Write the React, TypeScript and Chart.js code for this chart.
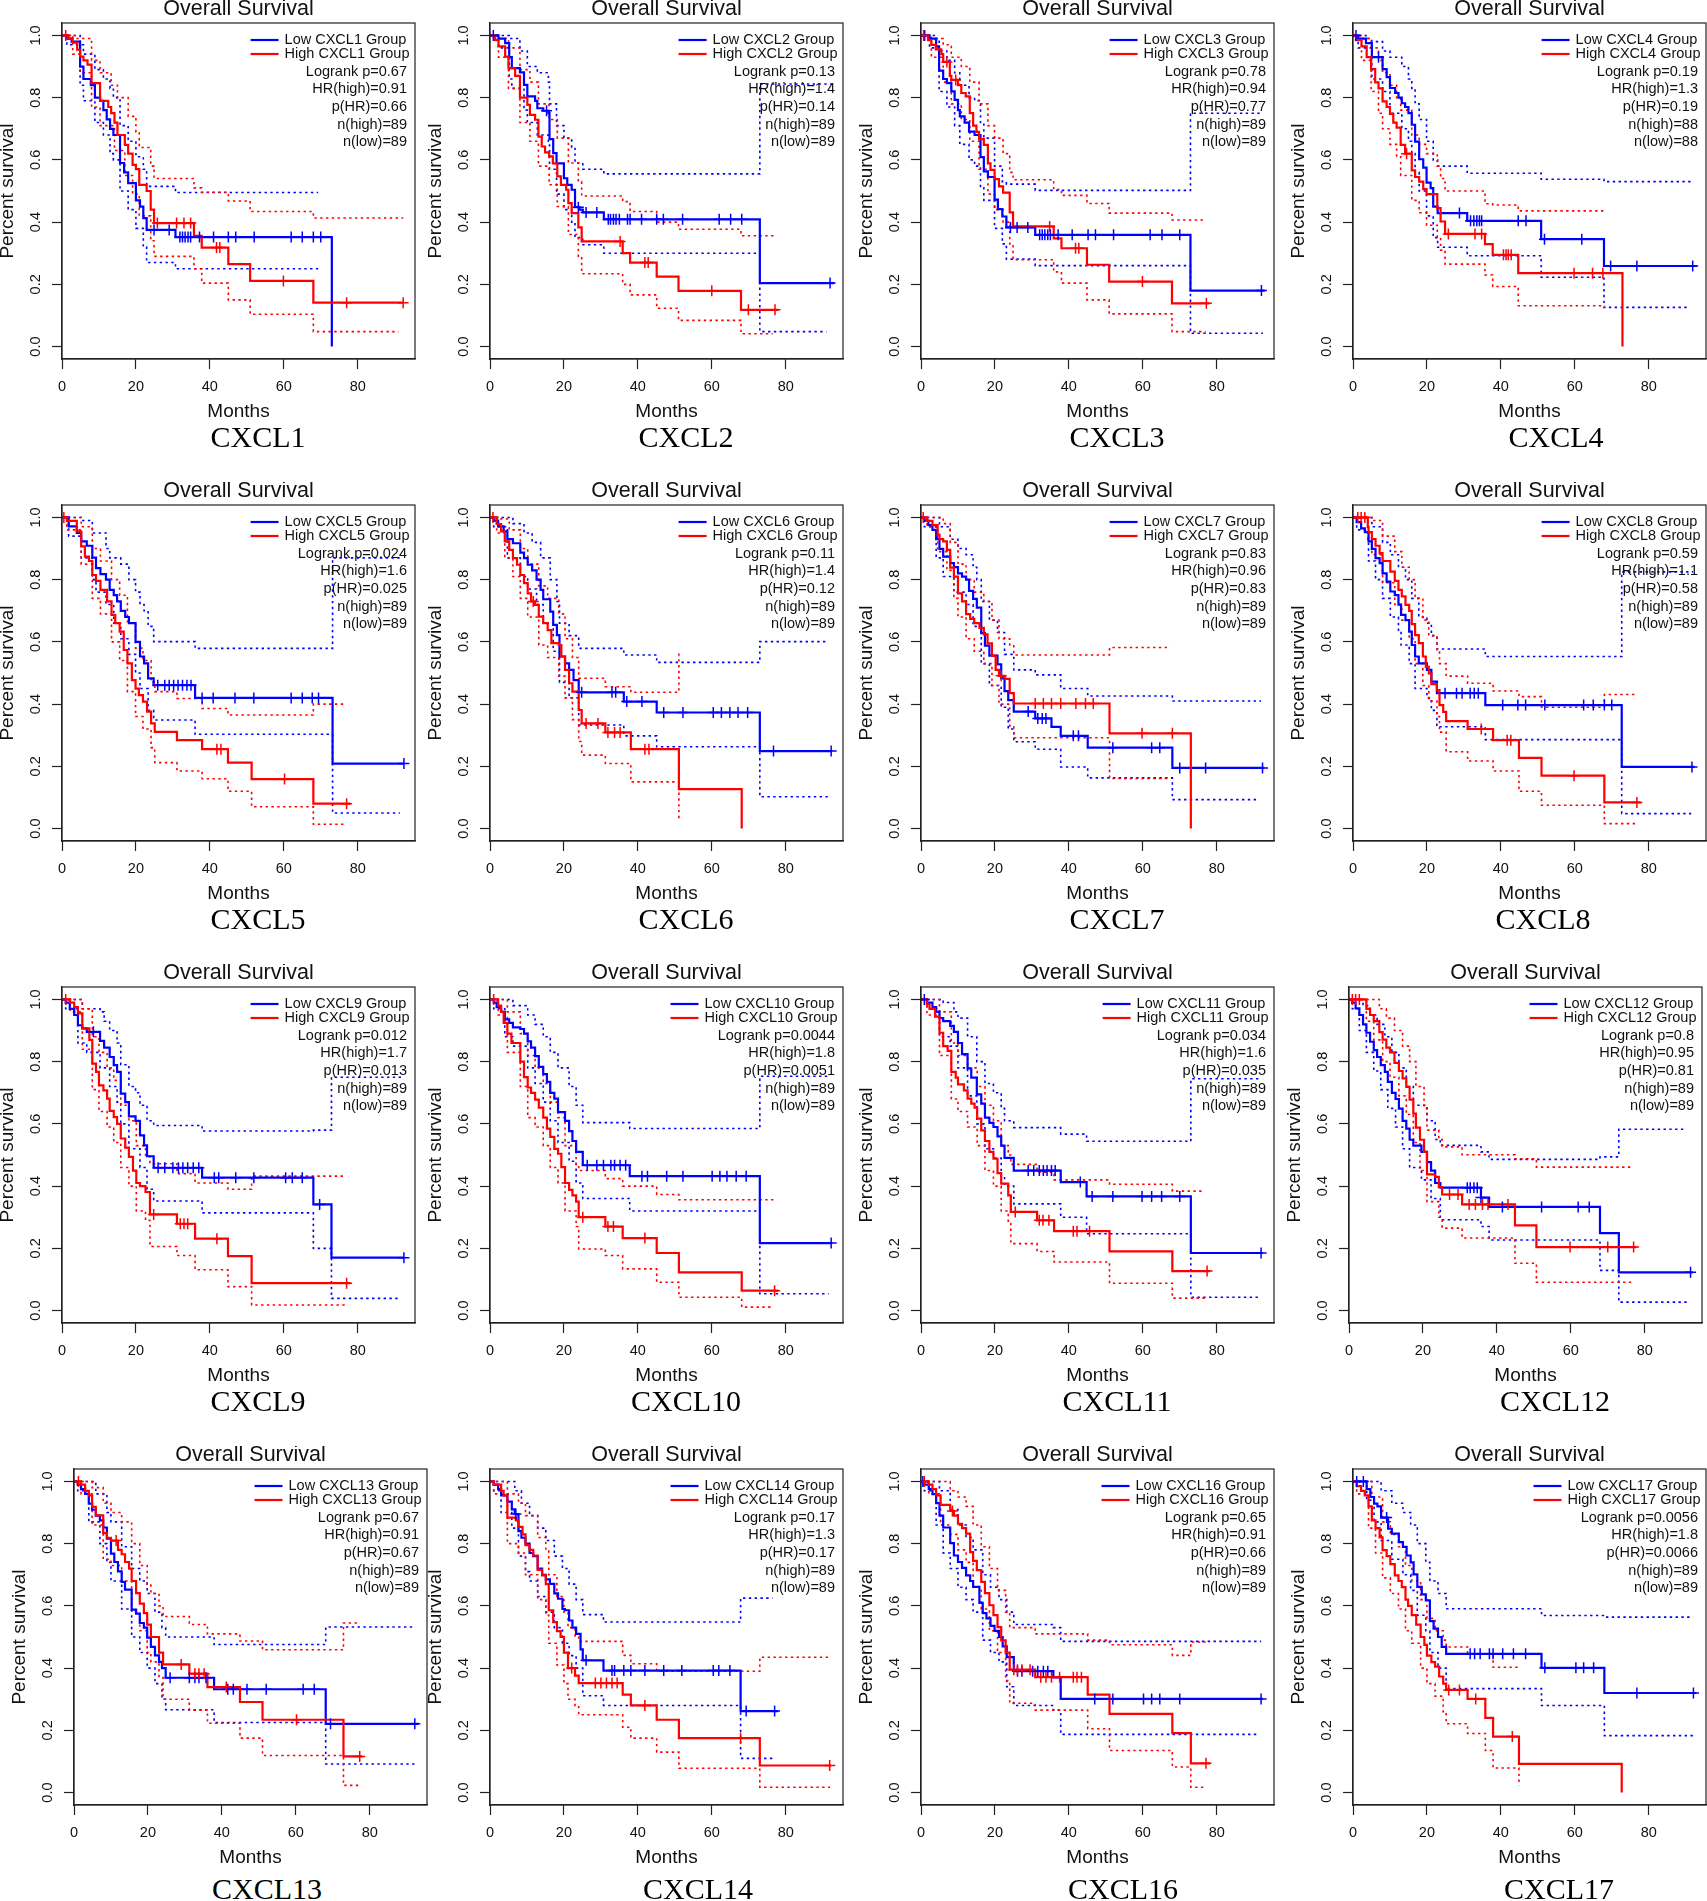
import React, { useEffect, useRef } from 'react';
import { Chart, registerables } from 'chart.js';

Chart.register(...registerables);

// ---------- labels & stats ----------
const genes = ['CXCL1', 'CXCL2', 'CXCL3', 'CXCL4', 'CXCL5', 'CXCL6', 'CXCL7', 'CXCL8', 'CXCL9', 'CXCL10', 'CXCL11', 'CXCL12', 'CXCL13', 'CXCL14', 'CXCL16', 'CXCL17'];
const logrankP = ['0.67', '0.13', '0.78', '0.19', '0.024', '0.11', '0.83', '0.59', '0.012', '0.0044', '0.034', '0.8', '0.67', '0.17', '0.65', '0.0056'];
const hrHigh = ['0.91', '1.4', '0.94', '1.3', '1.6', '1.4', '0.96', '1.1', '1.7', '1.8', '1.6', '0.95', '0.91', '1.3', '0.91', '1.8'];
const pHR = ['0.66', '0.14', '0.77', '0.19', '0.025', '0.12', '0.83', '0.58', '0.013', '0.0051', '0.035', '0.81', '0.67', '0.17', '0.66', '0.0066'];
const nHigh = [89, 89, 89, 88, 89, 89, 89, 89, 89, 89, 89, 89, 89, 89, 89, 89];
const nLow = [89, 89, 89, 88, 89, 89, 89, 89, 89, 89, 89, 89, 89, 89, 89, 89];
const xTicks = [0, 20, 40, 60, 80];
const yTicks = [0, 0.2, 0.4, 0.6, 0.8, 1.0];

// ---------- CXCL1 ----------
const c1Low = [[0,1],[1.3,0.99],[2.6,0.98],[4.9,0.90],[5.8,0.86],[7.8,0.84],[8.9,0.80],[10.3,0.79],[11.2,0.76],[12.1,0.73],[13,0.70],[13.9,0.68],[15.7,0.59],[16.8,0.56],[17.9,0.525],[20,0.47],[21.1,0.45],[22,0.413],[22.9,0.375],[30.7,0.352],[73,0]];
const c1High = [[0,1],[1.7,0.99],[2.9,0.977],[4.1,0.954],[4.9,0.932],[5.8,0.92],[6.9,0.906],[8,0.847],[10.3,0.79],[12.5,0.77],[13.3,0.75],[14.2,0.72],[15,0.68],[17,0.648],[17.9,0.62],[19.1,0.584],[20,0.57],[20.9,0.52],[22.9,0.50],[24,0.44],[24.9,0.397],[35.7,0.356],[37.8,0.318],[45,0.265],[50.9,0.211],[68,0.141],[92.3,0.141]];
const c1LowUp = [[0,1],[4.9,0.97],[5.8,0.94],[8.9,0.89],[11.2,0.86],[13,0.83],[13.9,0.80],[15.7,0.71],[17.9,0.66],[20,0.61],[22,0.57],[22.9,0.515],[30.7,0.495],[69.3,0.495]];
const c1LowDn = [[0,1],[1.3,0.97],[4.9,0.84],[5.8,0.79],[8.9,0.72],[11.2,0.68],[13,0.62],[13.9,0.60],[15.7,0.50],[17.9,0.44],[20,0.38],[22,0.32],[22.9,0.27],[30.7,0.25],[69.3,0.25]];
const c1HighUp = [[0,1],[4.1,0.99],[8,0.92],[10.3,0.88],[13.3,0.84],[15,0.80],[17.9,0.74],[20,0.69],[20.9,0.64],[24,0.58],[24.9,0.54],[35.7,0.51],[37.8,0.496],[45,0.468],[50.9,0.434],[68,0.413],[92.3,0.413]];
const c1HighDn = [[0,1],[2.9,0.94],[4.9,0.88],[8,0.77],[10.3,0.71],[14.2,0.63],[17,0.55],[19.1,0.49],[20.9,0.42],[24,0.34],[24.9,0.29],[35.7,0.25],[37.8,0.204],[45,0.15],[50.9,0.104],[68,0.048],[91,0.048]];
const c1LowCens = [24.9, 29, 31.9, 32.6, 33.3, 34.1, 34.8, 37.2, 41, 45, 47, 52, 62, 65, 68, 70];
const c1HighCens = [1, 25.8, 31, 33, 34.8, 41.8, 42.7, 59.9, 77, 92.3];

// ---------- CXCL2 ----------
const c2Low = [[0,1],[2.3,0.99],[4.1,0.975],[5.2,0.93],[5.9,0.895],[8.1,0.881],[9.2,0.841],[10.1,0.804],[12.2,0.79],[12.8,0.766],[14.4,0.758],[15.8,0.75],[16.1,0.667],[17.1,0.622],[18,0.589],[20,0.541],[20.9,0.52],[22.1,0.504],[23,0.448],[24.2,0.44],[25.1,0.431],[30.8,0.409],[73,0.204],[93.1,0.204]];
const c2High = [[0,1],[1.4,0.985],[2.3,0.965],[4.1,0.932],[5,0.895],[6.8,0.87],[8.1,0.80],[10.1,0.777],[10.8,0.745],[12.2,0.729],[13.1,0.675],[14,0.643],[14.9,0.624],[16,0.611],[17,0.589],[18.2,0.547],[19.2,0.52],[20.6,0.504],[21.2,0.461],[22.1,0.429],[23.9,0.383],[24.8,0.338],[35.9,0.30],[37.9,0.27],[45.1,0.225],[51,0.179],[67.9,0.118],[78,0.118]];
const c2LowUp = [[0,1],[5.2,0.99],[8.1,0.95],[10.1,0.90],[12.8,0.88],[15.8,0.85],[16.1,0.78],[18,0.71],[20,0.67],[22.1,0.64],[23,0.59],[25.1,0.57],[30.8,0.555],[73,0.844],[93,0.844]];
const c2LowDn = [[0,1],[2.3,0.96],[5.2,0.86],[5.9,0.83],[9.2,0.76],[10.1,0.72],[12.8,0.68],[15.8,0.66],[16.1,0.57],[18,0.49],[20,0.44],[22.1,0.40],[23,0.35],[25.1,0.327],[30.8,0.30],[73,0.048],[91,0.048]];
const c2HighUp = [[0,1],[2.3,0.99],[5,0.96],[8.1,0.89],[10.8,0.85],[13.1,0.78],[16,0.73],[18.2,0.67],[21.2,0.59],[23.9,0.53],[24.8,0.484],[35.9,0.466],[37.9,0.434],[45.1,0.40],[51,0.377],[67.9,0.356],[77.5,0.356]];
const c2HighDn = [[0,1],[2.3,0.93],[5,0.83],[8.1,0.72],[10.8,0.66],[13.1,0.58],[16,0.52],[18.2,0.45],[21.2,0.36],[23.9,0.29],[24.8,0.234],[35.9,0.20],[37.9,0.166],[45.1,0.123],[51,0.084],[67.9,0.041],[76.5,0.041]];
const c2LowCens = [0.9, 15.3, 23.9, 26, 28.9, 32, 32.6, 33.4, 34.1, 35, 37.2, 37.9, 41, 45.1, 46.9, 52.1, 62, 65.1, 68.1, 92];
const c2HighCens = [35.2, 41.9, 42.8, 60, 69.9, 77.1];

// ---------- CXCL3 ----------
const c3Low = [[0,1],[2.3,0.99],[4.1,0.965],[4.9,0.887],[6,0.86],[7,0.847],[8.2,0.82],[9.1,0.793],[10,0.76],[10.5,0.74],[11.8,0.72],[13,0.691],[14.5,0.68],[16.1,0.609],[17,0.563],[18.1,0.545],[19.9,0.472],[20.8,0.442],[22,0.418],[23.1,0.383],[30.9,0.359],[72.9,0.18],[93,0.18]];
const c3High = [[0,1],[1.9,0.985],[2.8,0.97],[4,0.955],[5.5,0.94],[6,0.915],[7.8,0.87],[8.2,0.857],[10,0.84],[10.9,0.815],[12.1,0.804],[13.2,0.75],[14.1,0.71],[15,0.69],[15.7,0.667],[17,0.648],[18.1,0.589],[18.8,0.568],[19.9,0.538],[21.1,0.515],[22.2,0.495],[24,0.431],[24.9,0.386],[35.9,0.348],[38,0.316],[44.9,0.263],[50.9,0.209],[67.9,0.139],[78,0.139]];
const c3LowUp = [[0,1],[4.1,0.99],[4.9,0.95],[7,0.92],[9.1,0.88],[10.5,0.84],[13,0.80],[14.5,0.79],[16.1,0.72],[17,0.67],[19.9,0.58],[22,0.53],[23.1,0.522],[30.9,0.502],[72.9,0.75],[92.5,0.75]];
const c3LowDn = [[0,1],[2.3,0.96],[4.9,0.82],[7,0.77],[9.1,0.71],[10.5,0.65],[13,0.60],[14.5,0.58],[16.1,0.51],[17,0.47],[19.9,0.38],[22,0.33],[23.1,0.281],[30.9,0.26],[72.9,0.043],[92.5,0.043]];
const c3HighUp = [[0,1],[2.8,0.99],[6,0.97],[8.2,0.93],[10.9,0.90],[13.2,0.85],[15.7,0.78],[18.1,0.71],[19.9,0.67],[22.2,0.62],[24,0.56],[24.9,0.536],[35.9,0.505],[38,0.486],[44.9,0.46],[50.9,0.429],[67.9,0.407],[77,0.407]];
const c3HighDn = [[0,1],[2.8,0.93],[6,0.85],[8.2,0.78],[10.9,0.73],[13.2,0.66],[15.7,0.57],[18.1,0.49],[19.9,0.44],[22.2,0.40],[24,0.33],[24.9,0.279],[35.9,0.24],[38,0.204],[44.9,0.15],[50.9,0.105],[67.9,0.048],[77,0.048]];
const c3LowCens = [1, 24.2, 26, 28.9, 32.1, 32.8, 33.5, 34.3, 35, 37.1, 40.9, 45.2, 47.2, 52.1, 62, 65.2, 70, 92.1];
const c3HighCens = [0.7, 7, 9.4, 34.8, 41.8, 42.7, 59.9, 77.2];

// ---------- CXCL4 ----------
const c4Low = [[0,1],[1.4,0.99],[3.5,0.975],[5.1,0.93],[8,0.892],[9.1,0.866],[10,0.831],[11.4,0.815],[12.3,0.80],[13.2,0.782],[14.1,0.77],[15,0.75],[15.9,0.713],[16.8,0.659],[17.9,0.602],[19,0.575],[19.9,0.527],[21,0.509],[21.7,0.45],[22.9,0.429],[30.9,0.404],[50.9,0.345],[67.9,0.259],[93,0.259]];
const c4High = [[0,1],[0.8,0.985],[2.3,0.965],[3.7,0.93],[4.9,0.892],[6,0.849],[6.9,0.83],[8,0.788],[9.1,0.77],[10,0.748],[10.9,0.72],[11.8,0.704],[12.9,0.648],[14.1,0.62],[15.9,0.566],[16.8,0.545],[17.9,0.53],[19,0.506],[19.9,0.49],[22.8,0.445],[23.7,0.402],[24.9,0.362],[35.7,0.329],[37.8,0.295],[44.7,0.236],[72.9,0]];
const c4LowUp = [[0,1],[3.5,0.99],[5.1,0.98],[8,0.95],[10,0.93],[13.2,0.90],[15,0.86],[15.9,0.83],[16.8,0.78],[17.9,0.73],[19.9,0.66],[21.7,0.60],[22.9,0.58],[30.9,0.557],[50.9,0.538],[67.9,0.53],[91.5,0.53]];
const c4LowDn = [[0,1],[1.4,0.96],[5.1,0.86],[8,0.82],[10,0.75],[13.2,0.70],[15,0.66],[15.9,0.62],[16.8,0.56],[17.9,0.50],[19.9,0.42],[21.7,0.35],[22.9,0.319],[30.9,0.292],[50.9,0.223],[67.9,0.126],[91,0.126]];
const c4HighUp = [[0,1],[2.3,0.99],[4.9,0.96],[6.9,0.92],[8,0.88],[10,0.84],[11.8,0.80],[12.9,0.76],[15.9,0.68],[17.9,0.65],[19.9,0.62],[22.8,0.58],[23.7,0.54],[24.9,0.50],[35.7,0.459],[37.8,0.455],[44.7,0.436],[68.2,0.436]];
const c4HighDn = [[0,1],[2.3,0.92],[4.9,0.82],[6.9,0.75],[8,0.70],[10,0.65],[11.8,0.61],[12.9,0.55],[15.9,0.47],[17.9,0.43],[19.9,0.39],[22.8,0.35],[23.7,0.31],[24.9,0.265],[35.7,0.23],[37.8,0.193],[44.7,0.131],[68.2,0.131]];
const c4LowCens = [0.8, 6.9, 28.8, 31.8, 32.7, 33.5, 34.2, 34.8, 44.7, 46.8, 51.8, 61.9, 69.7, 76.8, 91.9];
const c4HighCens = [14.5, 25.8, 33, 34.8, 40.7, 41.4, 42, 42.8, 59.8, 64.8, 67.6];

// ---------- CXCL5 ----------
const c5Low = [[0,1],[1.8,0.971],[4,0.95],[5.2,0.923],[6.7,0.909],[8.2,0.871],[9.2,0.837],[10.4,0.818],[11.9,0.80],[12.9,0.767],[14,0.75],[14.9,0.73],[15.9,0.70],[17.1,0.68],[18.1,0.66],[19.9,0.60],[21.1,0.553],[22.2,0.531],[23.3,0.483],[24.8,0.461],[36,0.42],[73.2,0.209],[92.5,0.209]];
const c5High = [[0,1],[1.3,0.989],[4,0.955],[5.2,0.907],[6.2,0.874],[7.3,0.86],[8.2,0.815],[9.2,0.796],[10.4,0.767],[12.2,0.73],[13.4,0.687],[14.4,0.66],[15.6,0.633],[16.7,0.574],[17.7,0.531],[18.9,0.477],[19.9,0.45],[20.8,0.429],[21.9,0.408],[23,0.376],[24.1,0.338],[25.1,0.311],[31.1,0.284],[37.9,0.255],[44.9,0.212],[51.3,0.159],[68,0.08],[78,0.08]];
const c5LowUp = [[0,1],[5.2,0.99],[8.2,0.95],[11.9,0.90],[12.9,0.87],[15.9,0.85],[18.1,0.80],[19.9,0.76],[21.1,0.72],[22.2,0.70],[23.3,0.65],[24.8,0.601],[36,0.579],[73.2,0.87],[92,0.87]];
const c5LowDn = [[0,1],[1.8,0.94],[5.2,0.87],[8.2,0.80],[9.2,0.76],[11.9,0.72],[14,0.66],[15.9,0.61],[18.1,0.56],[19.9,0.50],[21.1,0.45],[23.3,0.38],[24.8,0.349],[36,0.303],[73.2,0.05],[91.4,0.05]];
const c5HighUp = [[0,1],[1.3,1],[5.2,0.97],[8.2,0.90],[10.4,0.86],[13.4,0.80],[15.6,0.75],[17.7,0.66],[19.9,0.58],[21.9,0.54],[24.1,0.47],[25.1,0.44],[31.1,0.418],[37.9,0.386],[44.9,0.365],[68,0.40],[77,0.40]];
const c5HighDn = [[0,1],[1.3,0.96],[5.2,0.85],[8.2,0.74],[10.4,0.69],[13.4,0.60],[15.6,0.54],[17.7,0.44],[19.9,0.36],[21.9,0.32],[24.1,0.26],[25.1,0.212],[31.1,0.185],[37.9,0.16],[44.9,0.12],[51.3,0.07],[68,0.014],[77,0.014]];
const c5LowCens = [25.9, 27.8, 29, 30.2, 31.4, 32.6, 33.8, 34.9, 37.9, 40.9, 46.8, 51.9, 62, 65, 67.7, 69.4, 92.5];
const c5HighCens = [0.5, 41.9, 43, 60.2, 77];

// ---------- CXCL6 ----------
const c6Low = [[0,1],[1,0.99],[2.2,0.971],[3.7,0.955],[4.7,0.93],[6.2,0.917],[8.2,0.887],[9.2,0.869],[10.2,0.848],[11.4,0.83],[12.6,0.80],[13.7,0.767],[14.4,0.737],[16.3,0.697],[17.1,0.655],[18.1,0.622],[18.8,0.553],[20.3,0.531],[21.4,0.51],[22.6,0.477],[24,0.438],[36.2,0.408],[45.1,0.373],[73,0.249],[92.6,0.249]];
const c6High = [[0,1],[1.8,0.979],[3,0.955],[4,0.923],[5.2,0.896],[6.2,0.869],[7.3,0.848],[8.2,0.815],[9.2,0.789],[10.2,0.756],[11.1,0.73],[12.2,0.719],[13.2,0.681],[14.4,0.66],[15.6,0.638],[16.6,0.596],[18.6,0.59],[19.3,0.553],[20.3,0.51],[21.4,0.467],[22.3,0.44],[24,0.381],[24.8,0.338],[31.2,0.309],[38.1,0.255],[51.1,0.127],[68.1,0]];
const c6LowUp = [[0,1],[3.7,1],[6.2,0.98],[9.2,0.95],[11.4,0.92],[13.7,0.87],[16.3,0.80],[18.1,0.73],[18.8,0.66],[21.4,0.62],[24,0.579],[36.2,0.558],[45.1,0.534],[73,0.601],[91.6,0.601]];
const c6LowDn = [[0,1],[1,0.97],[4.7,0.87],[8.2,0.81],[10.2,0.77],[12.6,0.72],[14.4,0.66],[17.1,0.57],[18.8,0.47],[21.4,0.42],[24,0.333],[36.2,0.298],[45.1,0.263],[73,0.102],[91.6,0.102]];
const c6HighUp = [[0,1],[3,0.995],[5.2,0.96],[8.2,0.90],[10.2,0.85],[13.2,0.78],[15.6,0.74],[18.6,0.69],[20.3,0.61],[22.3,0.55],[24,0.483],[31.2,0.456],[38.1,0.438],[51.1,0.563]];
const c6HighDn = [[0,1],[1.8,0.95],[4,0.87],[6.2,0.81],[8.2,0.74],[10.2,0.68],[13.2,0.59],[15.6,0.55],[18.6,0.49],[20.3,0.42],[22.3,0.35],[24,0.28],[24.8,0.236],[31.2,0.209],[38.1,0.15],[51.1,0.03]];
const c6LowCens = [24.8, 33, 34, 37, 41.1, 47, 52.2, 60.4, 62.6, 64.9, 67.1, 69.7, 76.7, 92.3];
const c6HighCens = [0.8, 11.7, 26, 29.2, 31.9, 33.7, 35.2, 41.9, 43];

// ---------- CXCL7 ----------
const c7Low = [[0,1],[0.9,0.99],[2,0.975],[3.1,0.96],[4.1,0.93],[5,0.899],[6,0.874],[7.9,0.853],[8.9,0.84],[10,0.82],[11.1,0.81],[12.2,0.80],[13,0.764],[14.1,0.738],[15.1,0.71],[16.3,0.628],[17.3,0.588],[18.5,0.556],[20.7,0.528],[21.7,0.483],[22.6,0.442],[23.6,0.413],[25.1,0.376],[30.9,0.354],[35.3,0.327],[37.8,0.298],[45.1,0.26],[68,0.195],[92.9,0.195]];
const c7High = [[0,1],[1.6,0.989],[3.1,0.975],[4.5,0.945],[5,0.93],[6,0.923],[7,0.896],[7.9,0.839],[8.9,0.81],[10,0.756],[11.1,0.73],[12.2,0.689],[13.3,0.674],[14.4,0.66],[15.8,0.645],[17,0.624],[18,0.595],[19.2,0.556],[20.2,0.51],[21.1,0.491],[22.6,0.481],[24,0.435],[25.1,0.402],[51,0.306],[73,0]];
const c7LowUp = [[0,1],[2,1],[5,0.97],[7.9,0.93],[10,0.90],[12.2,0.88],[14.1,0.84],[15.1,0.80],[16.3,0.73],[18.5,0.67],[20.7,0.63],[22.6,0.56],[25.1,0.51],[30.9,0.494],[37.8,0.45],[45.1,0.426],[68,0.41],[92,0.41]];
const c7LowDn = [[0,1],[0.9,0.97],[4.1,0.87],[6,0.81],[8.9,0.76],[12.2,0.72],[14.1,0.65],[16.3,0.53],[18.5,0.46],[21.7,0.39],[23.6,0.32],[25.1,0.279],[30.9,0.255],[37.8,0.198],[45.1,0.163],[68,0.093],[91.4,0.093]];
const c7HighUp = [[0,1],[3.1,1],[6,0.98],[7.9,0.92],[10,0.85],[12.2,0.80],[14.4,0.76],[17,0.73],[19.2,0.67],[21.1,0.61],[24,0.59],[25.1,0.558],[51,0.582],[67.5,0.582]];
const c7HighDn = [[0,1],[1.6,0.97],[4.5,0.89],[7,0.83],[8.9,0.74],[10,0.68],[12.2,0.61],[14.4,0.57],[17,0.53],[19.2,0.46],[21.1,0.40],[24,0.33],[25.1,0.292],[51,0.161],[67.5,0.161]];
const c7LowCens = [29, 31.6, 32.8, 33.8, 41.2, 42.6, 51.9, 62.4, 64.6, 70, 77, 92.4];
const c7HighCens = [0.6, 21.7, 30.9, 33.1, 35.3, 37.8, 41.9, 44.5, 46.6, 59.8, 68];

// ---------- CXCL8 ----------
const c8Low = [[0,1],[1,0.985],[2.2,0.965],[3.2,0.953],[4.2,0.923],[5.1,0.899],[6.1,0.869],[7.2,0.853],[8,0.82],[9.1,0.794],[10.1,0.762],[11.3,0.75],[12.3,0.72],[13,0.687],[14.2,0.67],[15.2,0.633],[15.9,0.59],[16.8,0.553],[17.8,0.531],[20,0.51],[21.2,0.472],[22.7,0.435],[35.8,0.397],[72.7,0.198],[92.4,0.198]];
const c8High = [[0,1],[4,0.97],[4.2,0.953],[5.1,0.93],[6.1,0.909],[7.2,0.885],[8,0.86],[10.1,0.826],[11.3,0.796],[12.3,0.767],[13.2,0.746],[14.2,0.719],[15.2,0.70],[15.9,0.657],[16.8,0.622],[17.8,0.596],[18.9,0.553],[19.7,0.52],[20.5,0.499],[21.2,0.464],[22.7,0.445],[23.4,0.397],[24.4,0.375],[25.2,0.345],[31,0.32],[37.9,0.284],[44.9,0.227],[51,0.17],[68,0.084],[77.8,0.084]];
const c8LowUp = [[0,1],[2.2,1],[5.1,0.97],[8,0.92],[10.1,0.88],[12.3,0.84],[14.2,0.80],[15.9,0.74],[17.8,0.68],[20,0.66],[21.2,0.62],[22.7,0.577],[35.8,0.553],[72.7,0.825],[92,0.825]];
const c8LowDn = [[0,1],[1,0.96],[4.2,0.86],[6.1,0.80],[8,0.74],[10.1,0.68],[12.3,0.63],[13,0.59],[15.2,0.53],[16.8,0.45],[20,0.42],[21.2,0.38],[22.7,0.327],[35.8,0.286],[72.7,0.048],[91.5,0.048]];
const c8HighUp = [[0,1],[5.1,0.99],[8,0.94],[11.3,0.89],[13.2,0.84],[15.2,0.80],[16.8,0.74],[18.9,0.67],[20.5,0.62],[22.7,0.57],[23.4,0.53],[25.2,0.49],[31,0.467],[37.9,0.442],[44.9,0.424],[51,0.39],[68,0.431],[76.8,0.431]];
const c8HighDn = [[0,1],[4,0.93],[5.1,0.88],[8,0.79],[11.3,0.72],[13.2,0.67],[15.2,0.61],[16.8,0.53],[18.9,0.46],[20.5,0.41],[22.7,0.36],[23.4,0.31],[25.2,0.247],[31,0.217],[37.9,0.185],[44.9,0.12],[51,0.075],[68,0.016],[76.8,0.016]];
const c8LowCens = [24.9, 28, 29.5, 31.7, 32.8, 33.9, 40.5, 44.6, 46.7, 51.9, 62.4, 65, 68, 70, 91.7];
const c8HighCens = [1.3, 2.2, 3.2, 34.7, 41.7, 42.7, 59.8, 76.8];

// ---------- CXCL9 ----------
const c9Low = [[0,1],[1,0.99],[2.1,0.97],[3.3,0.95],[4.3,0.917],[5.5,0.907],[6.7,0.896],[10.3,0.867],[11.4,0.845],[12.9,0.815],[14,0.789],[14.9,0.767],[15.9,0.697],[17.1,0.67],[18.1,0.624],[19.9,0.61],[21.1,0.563],[22.2,0.531],[23,0.496],[24.8,0.459],[37.9,0.427],[68,0.341],[72.9,0.17],[92.5,0.17]];
const c9High = [[0,1],[2.2,0.99],[3.3,0.975],[4.3,0.955],[5.5,0.907],[7.4,0.87],[8.2,0.794],[9.2,0.767],[10,0.724],[11.2,0.708],[12.2,0.681],[12.9,0.642],[14,0.622],[14.9,0.60],[15.9,0.553],[17.1,0.524],[18.1,0.494],[19.2,0.45],[20.1,0.41],[21.1,0.40],[22.6,0.381],[23.8,0.309],[31.1,0.279],[36,0.231],[44.9,0.175],[51.3,0.088],[78,0.088]];
const c9LowUp = [[0,1],[3.3,1],[5.5,0.97],[10.3,0.96],[11.4,0.93],[12.9,0.90],[14.9,0.86],[15.9,0.79],[18.1,0.72],[19.9,0.70],[21.1,0.66],[23,0.61],[24.8,0.595],[37.9,0.577],[68,0.58],[72.9,0.75],[92,0.75]];
const c9LowDn = [[0,1],[1,0.97],[4.3,0.86],[6.7,0.83],[10.3,0.78],[12.9,0.72],[14.9,0.67],[15.9,0.60],[18.1,0.52],[21.1,0.46],[23,0.39],[24.8,0.352],[37.9,0.314],[68,0.20],[72.9,0.039],[91.4,0.039]];
const c9HighUp = [[0,1],[3.3,1],[5.5,0.97],[8.2,0.88],[10,0.83],[12.2,0.78],[14,0.74],[15.9,0.66],[18.1,0.61],[20.1,0.53],[22.6,0.50],[23.8,0.472],[31.1,0.44],[36,0.41],[44.9,0.39],[51.3,0.432],[76,0.432]];
const c9HighDn = [[0,1],[2.2,0.96],[5.5,0.84],[8.2,0.71],[10,0.64],[12.2,0.59],[14,0.54],[15.9,0.46],[18.1,0.40],[20.1,0.32],[22.6,0.29],[23.8,0.206],[31.1,0.177],[36,0.131],[44.9,0.077],[51.3,0.018],[77,0.018]];
const c9LowCens = [8.5, 26, 27.8, 30, 31.5, 32.7, 34, 35.5, 37, 41.2, 42.4, 47, 51.9, 60.5, 62.3, 65, 69.7, 92.5];
const c9HighCens = [1, 24.8, 32, 33, 34, 41.9, 77];

// ---------- CXCL10 ----------
const c10Low = [[0,1],[1,0.99],[1.8,0.975],[3,0.96],[4,0.936],[5.2,0.925],[6.2,0.91],[8.2,0.905],[9.2,0.89],[10.2,0.865],[11.1,0.845],[12.2,0.818],[13.2,0.783],[14.4,0.76],[15.4,0.735],[16.3,0.70],[17.4,0.681],[18.4,0.638],[20.3,0.61],[21.4,0.577],[22.3,0.545],[23.3,0.51],[25.1,0.467],[37.8,0.432],[73,0.217],[92.6,0.217]];
const c10High = [[0,1],[2.2,0.98],[3,0.96],[3.7,0.925],[4.7,0.89],[5.8,0.86],[8.2,0.80],[9.2,0.75],[10.2,0.717],[11.1,0.70],[12.2,0.678],[13.2,0.652],[14.4,0.62],[15.4,0.585],[16.3,0.558],[17.4,0.52],[18.4,0.504],[19.3,0.461],[20.3,0.41],[21.4,0.388],[22.3,0.37],[23.3,0.35],[24,0.30],[31.2,0.27],[35.9,0.233],[45.1,0.185],[51.1,0.123],[68.1,0.064],[78,0.064]];
const c10LowUp = [[0,1],[3,1],[6.2,0.98],[10.2,0.95],[12.2,0.92],[14.4,0.88],[16.3,0.83],[18.4,0.78],[21.4,0.72],[23.3,0.66],[25.1,0.604],[37.8,0.585],[73,0.753],[91.6,0.753]];
const c10LowDn = [[0,1],[1,0.97],[4,0.88],[6.2,0.85],[10.2,0.78],[12.2,0.73],[14.4,0.67],[16.3,0.61],[18.4,0.54],[21.4,0.48],[23.3,0.41],[25.1,0.36],[37.8,0.32],[73,0.054],[91.6,0.054]];
const c10HighUp = [[0,1],[3,1],[4.7,0.96],[8.2,0.89],[10.2,0.82],[12.2,0.78],[14.4,0.73],[16.3,0.67],[18.4,0.62],[20.3,0.53],[23.3,0.47],[24,0.45],[31.2,0.424],[35.9,0.40],[45.1,0.373],[51.1,0.356],[77,0.356]];
const c10HighDn = [[0,1],[2.2,0.95],[4.7,0.83],[8.2,0.72],[10.2,0.62],[12.2,0.59],[14.4,0.53],[16.3,0.46],[18.4,0.41],[20.3,0.32],[23.3,0.27],[24,0.198],[31.2,0.177],[35.9,0.134],[45.1,0.091],[51.1,0.043],[68.1,0.011],[76.5,0.011]];
const c10LowCens = [26.3, 28.9, 30.7, 32.7, 33.7, 35.2, 36.7, 41.1, 42.6, 47.8, 52.2, 60.1, 62.2, 64.1, 66.6, 69.3, 92.3];
const c10HighCens = [1, 25.1, 31.9, 33.4, 41.9, 77];

// ---------- CXCL11 ----------
const c11Low = [[0,1],[1.6,0.99],[3.1,0.975],[4.1,0.96],[5,0.94],[6,0.93],[7.9,0.915],[8.9,0.896],[10,0.86],[11.1,0.824],[12.6,0.778],[13.6,0.749],[15.1,0.695],[16.3,0.665],[17.3,0.62],[18.5,0.603],[19.6,0.59],[20.7,0.56],[21.7,0.53],[22.6,0.491],[25.1,0.45],[37.8,0.413],[44.8,0.367],[73,0.185],[92.5,0.185]];
const c11High = [[0,1],[1.6,0.985],[2.3,0.97],[3.8,0.945],[5,0.893],[6,0.85],[7.2,0.835],[8.2,0.767],[9.4,0.749],[10,0.727],[11.6,0.708],[12.6,0.681],[13.6,0.665],[14.5,0.652],[15.2,0.617],[16.3,0.579],[17.3,0.545],[18.5,0.51],[19.6,0.488],[20.7,0.442],[21.7,0.408],[23.6,0.37],[24.3,0.317],[31.4,0.29],[36,0.255],[51,0.19],[68,0.127],[78.2,0.127]];
const c11LowUp = [[0,1],[3.1,1],[6,0.99],[8.9,0.96],[10,0.94],[12.6,0.88],[15.1,0.80],[17.3,0.73],[19.6,0.70],[21.7,0.65],[22.6,0.61],[25.1,0.588],[37.8,0.567],[44.8,0.544],[73,0.745],[92,0.745]];
const c11LowDn = [[0,1],[1.6,0.97],[5,0.88],[7.9,0.85],[10,0.78],[12.6,0.69],[15.1,0.60],[17.3,0.52],[19.6,0.49],[21.7,0.43],[22.6,0.40],[25.1,0.343],[37.8,0.30],[44.8,0.247],[73,0.043],[92,0.043]];
const c11HighUp = [[0,1],[2.3,1],[5,0.96],[8.2,0.86],[10,0.82],[12.6,0.78],[15.2,0.72],[17.3,0.66],[19.6,0.61],[21.7,0.53],[23.6,0.50],[24.3,0.47],[31.4,0.445],[36,0.42],[51,0.406],[68,0.384],[76.8,0.384]];
const c11HighDn = [[0,1],[1.6,0.95],[5,0.82],[8.2,0.68],[10,0.64],[12.6,0.59],[15.2,0.53],[17.3,0.45],[19.6,0.40],[21.7,0.32],[23.6,0.28],[24.3,0.215],[31.4,0.19],[36,0.156],[51,0.088],[68,0.04],[76.8,0.04]];
const c11LowCens = [0.9, 29, 30.5, 32, 33.1, 34.1, 35.3, 36.3, 43.1, 46.3, 51.9, 59.8, 62.4, 65.1, 70, 92];
const c11HighCens = [25.5, 32, 33, 34.6, 41.2, 42.2, 45.6, 77.4];

// ---------- CXCL12 ----------
const c12Low = [[0,1],[0.9,0.99],[1.8,0.971],[2.8,0.95],[3.8,0.92],[4.7,0.893],[5.7,0.864],[6.7,0.837],[7.6,0.815],[8.6,0.789],[9.7,0.767],[10.5,0.735],[11.6,0.70],[12.6,0.68],[13.5,0.649],[14.5,0.61],[15.5,0.585],[16.4,0.549],[17.4,0.53],[19.6,0.51],[21.1,0.477],[22.2,0.45],[23.3,0.41],[24.7,0.395],[35.7,0.363],[37.9,0.333],[67.9,0.249],[73,0.123],[93,0.123]];
const c12High = [[0,1],[4.7,0.97],[5.7,0.95],[6.7,0.93],[8.2,0.895],[9.1,0.871],[10.1,0.845],[11.1,0.83],[12.3,0.796],[13.5,0.77],[14.5,0.746],[15.5,0.719],[16.4,0.678],[17.4,0.633],[18.1,0.588],[19.2,0.549],[20.3,0.51],[21.1,0.438],[23.3,0.43],[24.3,0.397],[25.2,0.373],[30.6,0.341],[44.9,0.274],[50.7,0.204],[77.7,0.204]];
const c12LowUp = [[0,1],[1.8,1],[3.8,0.98],[5.7,0.95],[7.6,0.92],[9.7,0.88],[11.6,0.83],[13.5,0.78],[15.5,0.72],[17.4,0.66],[21.1,0.61],[23.3,0.55],[24.7,0.531],[35.7,0.51],[37.9,0.486],[67.9,0.494],[73,0.583],[91.3,0.583]];
const c12LowDn = [[0,1],[0.9,0.97],[2.8,0.90],[4.7,0.83],[6.7,0.77],[8.6,0.71],[10.5,0.65],[12.6,0.59],[14.5,0.52],[16.4,0.46],[19.6,0.42],[22.2,0.36],[24.7,0.292],[35.7,0.27],[37.9,0.227],[67.9,0.129],[73,0.027],[91.5,0.027]];
const c12HighUp = [[0,1],[5.7,1],[8.2,0.97],[10.1,0.94],[12.3,0.90],[14.5,0.85],[16.4,0.80],[18.1,0.72],[20.3,0.65],[21.1,0.58],[24.3,0.55],[25.2,0.526],[30.6,0.501],[44.9,0.488],[50.7,0.461],[76.6,0.461]];
const c12HighDn = [[0,1],[4.7,0.93],[6.7,0.87],[9.1,0.80],[11.1,0.75],[13.5,0.69],[15.5,0.63],[17.4,0.54],[19.2,0.45],[21.1,0.35],[24.3,0.30],[25.2,0.265],[30.6,0.233],[44.9,0.152],[50.7,0.091],[76.6,0.091]];
const c12LowCens = [32, 32.8, 33.8, 34.7, 35.7, 41.5, 52.1, 62, 65, 92.4];
const c12HighCens = [0.9, 1.8, 2.8, 27.2, 29.5, 32.5, 34.2, 36.1, 37.6, 43, 59.8, 70, 77];

// ---------- CXCL13 ----------
const c13Low = [[0,1],[1,0.99],[1.9,0.975],[3,0.96],[4,0.929],[4.9,0.909],[5.9,0.89],[7,0.875],[7.9,0.852],[8.9,0.816],[10,0.768],[10.9,0.741],[11.9,0.711],[12.9,0.677],[13.8,0.652],[15.6,0.588],[16.8,0.575],[17.8,0.545],[18.9,0.53],[19.8,0.498],[20.8,0.468],[21.9,0.441],[23,0.42],[23.8,0.40],[24.8,0.369],[37.9,0.332],[68.1,0.221],[93.2,0.221]];
const c13High = [[0,1],[1.9,0.99],[3,0.97],[4,0.955],[4.9,0.918],[5.9,0.891],[7.9,0.834],[8.9,0.819],[10,0.81],[11.9,0.78],[12.9,0.766],[13.8,0.741],[14.9,0.72],[15.6,0.68],[16.8,0.641],[17.8,0.607],[18.9,0.577],[19.8,0.54],[20.8,0.50],[23,0.45],[24.1,0.412],[31.2,0.382],[36.1,0.339],[44.9,0.291],[51,0.234],[72.9,0.116],[78,0.116]];
const c13LowUp = [[0,1],[3,1],[5.9,0.96],[8.9,0.90],[10,0.87],[12.9,0.79],[15.6,0.72],[17.8,0.68],[19.8,0.64],[21.9,0.58],[23.8,0.53],[24.8,0.50],[37.9,0.476],[68.1,0.532],[91.7,0.532]];
const c13LowDn = [[0,1],[1,0.97],[4,0.87],[7,0.80],[8.9,0.74],[10,0.68],[12.9,0.59],[15.6,0.50],[17.8,0.45],[19.8,0.40],[21.9,0.35],[23.8,0.30],[24.8,0.266],[37.9,0.225],[68.1,0.092],[92.2,0.092]];
const c13HighUp = [[0,1],[3,1],[4.9,0.98],[7.9,0.93],[10,0.90],[12.9,0.87],[15.6,0.80],[17.8,0.73],[19.8,0.67],[20.8,0.64],[23,0.60],[24.1,0.566],[31.2,0.54],[36.1,0.51],[44.9,0.487],[51,0.459],[72.9,0.545],[77,0.545]];
const c13HighDn = [[0,1],[1.9,0.96],[4.9,0.86],[7.9,0.75],[10,0.73],[12.9,0.68],[15.6,0.58],[17.8,0.52],[19.8,0.45],[20.8,0.42],[23,0.37],[24.1,0.30],[31.2,0.265],[36.1,0.223],[44.9,0.175],[51,0.119],[72.9,0.023],[77,0.023]];
const c13LowCens = [26, 31.2, 32.7, 33.8, 35.7, 41.6, 43.1, 46.8, 52, 62, 65, 69.4, 92.2];
const c13HighCens = [1.2, 11.4, 29, 32.7, 33.8, 35.2, 41.2, 60.2, 77.3];

// ---------- CXCL14 ----------
const c14Low = [[0,1],[1,0.99],[2.2,0.975],[3,0.955],[4.7,0.935],[5.9,0.91],[6.7,0.895],[7.7,0.84],[8.5,0.819],[9.6,0.80],[10.7,0.77],[11.7,0.76],[12.9,0.72],[14.1,0.70],[15.1,0.685],[16.2,0.671],[17.4,0.64],[18.4,0.623],[19.6,0.59],[20.3,0.586],[21.4,0.553],[22.3,0.53],[23.3,0.51],[24.5,0.46],[25.1,0.425],[30.7,0.392],[67.8,0.262],[77.9,0.262]];
const c14High = [[0,1],[1,0.99],[3,0.97],[3.7,0.955],[4.7,0.884],[7,0.875],[7.7,0.854],[8.8,0.83],[9.6,0.795],[10.7,0.78],[11.7,0.762],[12.9,0.716],[14.1,0.698],[15.1,0.67],[15.9,0.586],[17.1,0.548],[18.1,0.519],[19.1,0.50],[20,0.45],[21.1,0.40],[23,0.376],[24,0.352],[35.9,0.315],[38.1,0.28],[45.1,0.234],[51.1,0.175],[73,0.087],[92.3,0.087]];
const c14LowUp = [[0,1],[4.7,1],[6.7,0.97],[8.5,0.93],[10.7,0.89],[12.9,0.85],[15.1,0.81],[17.4,0.76],[19.6,0.72],[21.4,0.67],[23.3,0.62],[25.1,0.572],[30.7,0.548],[67.8,0.625],[76.4,0.625]];
const c14LowDn = [[0,1],[1,0.97],[3,0.90],[5.9,0.85],[7.7,0.76],[9.6,0.71],[10.7,0.68],[12.9,0.63],[15.1,0.58],[17.4,0.53],[19.6,0.48],[21.4,0.44],[23.3,0.40],[25.1,0.311],[30.7,0.28],[67.8,0.11],[76.6,0.11]];
const c14HighUp = [[0,1],[3,1],[4.7,0.96],[7.7,0.93],[9.6,0.89],[12.9,0.82],[15.1,0.78],[15.9,0.70],[18.1,0.63],[20,0.58],[21.1,0.53],[23,0.50],[24,0.486],[35.9,0.441],[38.1,0.414],[45.1,0.39],[73,0.435],[92,0.435]];
const c14HighDn = [[0,1],[1,0.96],[4.7,0.80],[7.7,0.77],[9.6,0.70],[12.9,0.62],[15.1,0.57],[15.9,0.48],[18.1,0.41],[20,0.35],[21.1,0.30],[23,0.28],[24,0.25],[35.9,0.21],[38.1,0.175],[45.1,0.13],[51.1,0.078],[73,0.017],[92,0.017]];
const c14LowCens = [7, 26, 33, 33.7, 36.2, 38.1, 41.9, 47, 51.9, 60.4, 61.9, 64.9, 69.3, 77];
const c14HighCens = [22.1, 28.5, 30, 31.5, 33, 34.4, 41.9, 67.8, 91.9];

// ---------- CXCL16 ----------
const c16Low = [[0,1],[0.9,0.99],[2.1,0.975],[3.1,0.959],[4.1,0.93],[5,0.89],[6,0.852],[7.9,0.802],[8.9,0.762],[10,0.741],[11.1,0.722],[12.2,0.698],[13.3,0.68],[14.1,0.661],[15.8,0.61],[16.7,0.577],[17.7,0.56],[18.8,0.536],[19.9,0.52],[21.1,0.50],[22.1,0.47],[23.2,0.435],[25.1,0.39],[35.8,0.37],[37.8,0.301],[92.5,0.301]];
const c16High = [[0,1],[2.1,0.99],[3.1,0.975],[4.1,0.955],[5.3,0.925],[7.9,0.905],[8.9,0.89],[10,0.864],[11.1,0.85],[12.2,0.832],[13.3,0.773],[14.1,0.745],[15.1,0.715],[16.3,0.677],[17.3,0.641],[18.5,0.602],[19.6,0.57],[20.7,0.532],[21.7,0.489],[22.9,0.45],[24,0.395],[30.9,0.371],[45.1,0.315],[51,0.253],[68,0.191],[73,0.094],[78.2,0.094]];
const c16LowUp = [[0,1],[3.1,1],[5,0.97],[7.9,0.91],[10,0.86],[12.2,0.82],[14.1,0.78],[16.7,0.70],[18.8,0.66],[21.1,0.62],[23.2,0.58],[25.1,0.54],[35.8,0.53],[37.8,0.486],[92,0.486]];
const c16LowDn = [[0,1],[0.9,0.97],[4.1,0.86],[6,0.77],[7.9,0.72],[10,0.66],[12.2,0.62],[14.1,0.58],[16.7,0.49],[18.8,0.45],[21.1,0.42],[23.2,0.34],[25.1,0.28],[35.8,0.265],[37.8,0.187],[91.5,0.187]];
const c16HighUp = [[0,1],[4.1,1],[7.9,0.97],[10,0.95],[12.2,0.92],[14.1,0.86],[16.3,0.79],[18.5,0.72],[20.7,0.65],[22.9,0.58],[24,0.53],[30.9,0.51],[45.1,0.49],[51,0.475],[68,0.441],[73,0.484],[77,0.484]];
const c16HighDn = [[0,1],[2.1,0.96],[5.3,0.86],[7.9,0.83],[10,0.78],[12.2,0.74],[14.1,0.66],[16.3,0.59],[18.5,0.52],[20.7,0.45],[22.9,0.36],[24,0.287],[30.9,0.265],[45.1,0.205],[51,0.135],[68,0.082],[73,0.017],[77,0.017]];
const c16LowCens = [0.5, 26.1, 27.3, 30.2, 31.6, 33.1, 34.3, 47, 51.9, 60.2, 62.4, 64.6, 70, 92];
const c16HighCens = [0.9, 8.5, 25.1, 26.1, 27.3, 29.5, 32.4, 33.8, 35.3, 37.5, 41.2, 42.2, 43.4, 77.1];

// ---------- CXCL17 ----------
const c17Low = [[0,1],[3.7,0.975],[4.7,0.95],[5.7,0.929],[6.6,0.92],[7.6,0.884],[9.5,0.848],[10.5,0.832],[12.4,0.805],[13.5,0.79],[14.5,0.762],[15.6,0.74],[16.4,0.701],[17.4,0.661],[18.6,0.637],[19.7,0.618],[20.8,0.551],[21.8,0.527],[23,0.50],[24,0.468],[25.2,0.446],[51,0.401],[68,0.32],[92.9,0.32]];
const c17High = [[0,1],[1,0.985],[2.2,0.97],[3.2,0.955],[4.2,0.92],[5.1,0.875],[6.1,0.85],[7.2,0.82],[8,0.779],[9.1,0.76],[10.1,0.734],[11.3,0.698],[12.3,0.68],[13.2,0.66],[14.2,0.62],[14.9,0.60],[15.9,0.57],[17.1,0.54],[18.3,0.50],[19.3,0.475],[20,0.44],[21.2,0.419],[22.2,0.405],[23.3,0.373],[24.4,0.35],[25.2,0.33],[31,0.301],[35.8,0.24],[37.9,0.18],[44.9,0.092],[72.7,0]];
const c17LowUp = [[0,1],[5.7,1],[7.6,0.97],[10.5,0.93],[13.5,0.90],[15.6,0.86],[17.4,0.80],[19.7,0.74],[20.8,0.68],[23,0.64],[25.2,0.591],[51,0.569],[68,0.564],[92,0.564]];
const c17LowDn = [[0,1],[3.7,0.94],[5.7,0.87],[7.6,0.81],[10.5,0.75],[13.5,0.70],[15.6,0.65],[17.4,0.57],[19.7,0.52],[20.8,0.45],[23,0.40],[25.2,0.334],[51,0.28],[68,0.183],[92,0.183]];
const c17HighUp = [[0,1],[3.2,1],[5.1,0.95],[8,0.87],[10.1,0.83],[12.3,0.79],[14.2,0.73],[15.9,0.68],[18.3,0.62],[20,0.56],[22.2,0.52],[24.4,0.49],[25.2,0.468],[31,0.445],[37.9,0.403],[44.9,0.403]];
const c17HighDn = [[0,1],[1,0.96],[4.2,0.85],[6.1,0.77],[8,0.69],[10.1,0.64],[12.3,0.59],[14.2,0.52],[15.9,0.48],[18.3,0.40],[20,0.35],[22.2,0.31],[24.4,0.26],[25.2,0.221],[31,0.19],[35.8,0.135],[37.9,0.079],[44.9,0.023]];
const c17LowCens = [1, 2.8, 9.1, 31.7, 32.9, 34.4, 36.9, 37.9, 40.5, 43.4, 46.7, 51.9, 60.3, 62.4, 65.1, 76.8, 92.1];
const c17HighCens = [25.9, 28.8, 33.2, 43.1];

// ---------- table built from the arrays ----------
const panels = [
  [c1Low, c1High, c1LowUp, c1LowDn, c1HighUp, c1HighDn, c1LowCens, c1HighCens],
  [c2Low, c2High, c2LowUp, c2LowDn, c2HighUp, c2HighDn, c2LowCens, c2HighCens],
  [c3Low, c3High, c3LowUp, c3LowDn, c3HighUp, c3HighDn, c3LowCens, c3HighCens],
  [c4Low, c4High, c4LowUp, c4LowDn, c4HighUp, c4HighDn, c4LowCens, c4HighCens],
  [c5Low, c5High, c5LowUp, c5LowDn, c5HighUp, c5HighDn, c5LowCens, c5HighCens],
  [c6Low, c6High, c6LowUp, c6LowDn, c6HighUp, c6HighDn, c6LowCens, c6HighCens],
  [c7Low, c7High, c7LowUp, c7LowDn, c7HighUp, c7HighDn, c7LowCens, c7HighCens],
  [c8Low, c8High, c8LowUp, c8LowDn, c8HighUp, c8HighDn, c8LowCens, c8HighCens],
  [c9Low, c9High, c9LowUp, c9LowDn, c9HighUp, c9HighDn, c9LowCens, c9HighCens],
  [c10Low, c10High, c10LowUp, c10LowDn, c10HighUp, c10HighDn, c10LowCens, c10HighCens],
  [c11Low, c11High, c11LowUp, c11LowDn, c11HighUp, c11HighDn, c11LowCens, c11HighCens],
  [c12Low, c12High, c12LowUp, c12LowDn, c12HighUp, c12HighDn, c12LowCens, c12HighCens],
  [c13Low, c13High, c13LowUp, c13LowDn, c13HighUp, c13HighDn, c13LowCens, c13HighCens],
  [c14Low, c14High, c14LowUp, c14LowDn, c14HighUp, c14HighDn, c14LowCens, c14HighCens],
  [c16Low, c16High, c16LowUp, c16LowDn, c16HighUp, c16HighDn, c16LowCens, c16HighCens],
  [c17Low, c17High, c17LowUp, c17LowDn, c17HighUp, c17HighDn, c17LowCens, c17HighCens],
];

// ---------- layout (pixels) ----------
const COL_LEFT = [0, 428, 859, 1291];
const ROW_TOP = [0, 482, 964, 1446];
const EXTRA_SHIFT: Record<number, number> = { 11: -4, 12: 12 };
const LABEL_DX: Record<number, number> = { 3: 7, 7: -6, 11: 10, 12: -3, 13: 12, 14: 6, 15: 10 };
const LABEL_DY_ROW = [0, 0, 0, 6];
const BLUE = '#0000ff';
const RED = '#ff0000';
const INK = '#111111';
const SANS = "'Liberation Sans', Arial, Helvetica, sans-serif";

const survAt = (curve: number[][], t: number) => {
  let y = curve[0][1];
  for (const [x, s] of curve) {
    if (x <= t) y = s; else break;
  }
  return y;
};

const stepSet = (data: number[][], color: string, dotted: boolean) => ({
  data: data.map(([x, y]) => ({ x, y })),
  borderColor: color,
  backgroundColor: color,
  borderWidth: dotted ? 1.6 : 2.2,
  borderDash: dotted ? [2.4, 3.4] : [],
  borderJoinStyle: 'miter',
  borderCapStyle: 'butt',
  stepped: true,
  pointRadius: 0,
  fill: false,
  tension: 0,
});

const censorSet = (times: number[], curve: number[][], color: string) => ({
  data: times.map((t) => ({ x: t, y: survAt(curve, t) })),
  borderColor: color,
  backgroundColor: color,
  showLine: false,
  pointStyle: 'cross',
  pointRadius: 5.5,
  pointBorderWidth: 1.5,
  pointBorderColor: color,
});

const boxPlugin = {
  id: 'rBox',
  afterDatasetsDraw(chart: any) {
    const { ctx, chartArea: a } = chart;
    ctx.save();
    ctx.strokeStyle = '#222';
    ctx.lineWidth = 1.2;
    ctx.strokeRect(a.left, a.top, a.right - a.left, a.bottom - a.top);
    ctx.restore();
  },
};

const legendPlugin = {
  id: 'kmLegend',
  afterDraw(chart: any) {
    const o = chart.options.plugins.kmLegend;
    if (!o) return;
    const { ctx, chartArea: a } = chart;
    ctx.save();
    ctx.font = `14.5px ${SANS}`;
    ctx.fillStyle = INK;
    ctx.textBaseline = 'middle';
    const w = Math.max(ctx.measureText(o.low).width, ctx.measureText(o.high).width);
    const textLeft = a.right - 5.5 - w;
    const rows = [
      { label: o.low, color: BLUE, y: a.top + 17 },
      { label: o.high, color: RED, y: a.top + 31 },
    ];
    rows.forEach((r) => {
      ctx.strokeStyle = r.color;
      ctx.lineWidth = 2.2;
      ctx.beginPath();
      ctx.moveTo(textLeft - 34, r.y);
      ctx.lineTo(textLeft - 6, r.y);
      ctx.stroke();
      ctx.textAlign = 'left';
      ctx.fillText(r.label, textLeft, r.y);
    });
    ctx.textAlign = 'right';
    o.stats.forEach((s: string, i: number) => {
      ctx.fillText(s, a.right - 8, a.top + 48.7 + i * 17.65);
    });
    ctx.restore();
  },
};

function Panel({ idx }: { idx: number }) {
  const ref = useRef<HTMLCanvasElement>(null);
  const [low, high, lowUp, lowDn, highUp, highDn, lowCens, highCens] = panels[idx] as any;
  const gene = genes[idx];
  const row = Math.floor(idx / 4);
  const left = COL_LEFT[idx % 4] + (EXTRA_SHIFT[idx] || 0);
  const top = ROW_TOP[row];

  useEffect(() => {
    if (!ref.current) return;
    const chart = new Chart(ref.current, {
      type: 'line',
      data: {
        datasets: [
          censorSet(highCens, high, RED),
          censorSet(lowCens, low, BLUE),
          stepSet(high, RED, false),
          stepSet(low, BLUE, false),
          stepSet(highUp, RED, true),
          stepSet(highDn, RED, true),
          stepSet(lowUp, BLUE, true),
          stepSet(lowDn, BLUE, true),
        ] as any,
      },
      options: {
        animation: false,
        responsive: false,
        events: [],
        layout: { padding: { left: 0, right: 15, top: 0, bottom: 0 } },
        plugins: {
          legend: { display: false },
          tooltip: { enabled: false },
          title: {
            display: true,
            text: 'Overall Survival',
            fullSize: false,
            color: INK,
            font: { family: SANS, size: 21.5, weight: 'normal', lineHeight: 0.8 },
            padding: { top: 0, bottom: 5.8 },
          },
          kmLegend: {
            low: `Low ${gene} Group`,
            high: `High ${gene} Group`,
            stats: [
              `Logrank p=${logrankP[idx]}`,
              `HR(high)=${hrHigh[idx]}`,
              `p(HR)=${pHR[idx]}`,
              `n(high)=${nHigh[idx]}`,
              `n(low)=${nLow[idx]}`,
            ],
          },
        } as any,
        scales: {
          x: {
            type: 'linear',
            min: 0,
            max: 95.5,
            afterBuildTicks: (s: any) => { s.ticks = xTicks.map((v) => ({ value: v })); },
            afterFit: (s: any) => { s.height = 66; },
            ticks: { color: INK, font: { family: SANS, size: 14.5 }, padding: 9, maxRotation: 0, autoSkip: false },
            grid: { display: true, drawOnChartArea: false, drawTicks: true, tickLength: 10, tickColor: '#222', tickWidth: 1.2 },
            border: { display: true, color: '#222', width: 1.2 },
            title: { display: true, text: 'Months', color: INK, font: { family: SANS, size: 19, lineHeight: 1 }, padding: { top: 0, bottom: 3.8 } },
          },
          y: {
            type: 'linear',
            min: -0.04,
            max: 1.04,
            afterBuildTicks: (s: any) => { s.ticks = yTicks.map((v) => ({ value: v })); },
            afterFit: (s: any) => { s.width = 62; },
            ticks: {
              color: INK,
              font: { family: SANS, size: 14.5 },
              padding: 6.3,
              minRotation: 90,
              maxRotation: 90,
              crossAlign: 'center',
              autoSkip: false,
              callback: (v: any) => Number(v).toFixed(1),
            },
            grid: { display: true, drawOnChartArea: false, drawTicks: true, tickLength: 10, tickColor: '#222', tickWidth: 1.2 },
            border: { display: true, color: '#222', width: 1.2 },
            title: { display: true, text: 'Percent survival', color: INK, font: { family: SANS, size: 19, lineHeight: 0.8 }, padding: { top: 0, bottom: 0 } },
          },
        } as any,
      } as any,
      plugins: [boxPlugin, legendPlugin] as any,
    });
    return () => chart.destroy();
  }, [idx]);

  return (
    <div style={{ position: 'absolute', left, top, width: 430, height: 480 }}>
      <canvas ref={ref} width={430} height={425} style={{ position: 'absolute', left: 0, top: 0, width: 430, height: 425 }} />
      <div
        style={{
          position: 'absolute',
          left: 158 + (LABEL_DX[idx] || 0),
          top: 422 + LABEL_DY_ROW[row],
          width: 200,
          textAlign: 'center',
          fontFamily: "'Liberation Serif', 'Times New Roman', serif",
          fontSize: 30,
          lineHeight: '30px',
          color: '#000',
          whiteSpace: 'nowrap',
        }}
      >
        {gene}
      </div>
    </div>
  );
}

export default function App() {
  return (
    <div style={{ position: 'absolute', left: 0, top: 0, width: 1707, height: 1901, overflow: 'hidden', background: '#fff' }}>
      {genes.map((g, i) => (
        <Panel key={g} idx={i} />
      ))}
    </div>
  );
}
